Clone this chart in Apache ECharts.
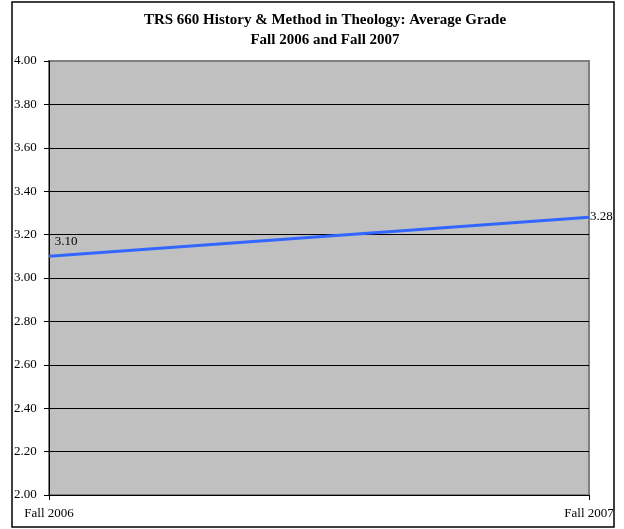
<!DOCTYPE html>
<html>
<head>
<meta charset="utf-8">
<script src="https://cdn.jsdelivr.net/npm/echarts@6/dist/echarts.min.js"></script>
<style>
  html, body { margin: 0; padding: 0; background: #fff; }
  #chart { width: 624px; height: 529px; }
</style>
</head>
<body>
<div id="chart"></div>
<script>
// Average grade per term
const terms = ['Fall 2006', 'Fall 2007'];
const averageGrade = [3.10, 3.28];
const titleLines = ['TRS 660 History & Method in Theology: Average Grade', 'Fall 2006 and Fall 2007'];

const serif = '"Liberation Serif", "Times New Roman", serif';
const chart = echarts.init(document.getElementById('chart'), null, { renderer: 'canvas' });

// black grid lines, except the top one which sits on the grey plot border
const splitColors = [];
for (let i = 0; i < 11; i++) splitColors.push(i === 10 ? '#808080' : '#000000');

chart.setOption({
  animation: false,
  backgroundColor: '#ffffff',
  title: {
    text: titleLines.join('\n'),
    left: 320,
    textAlign: 'center',
    top: 5,
    textStyle: { fontFamily: serif, fontWeight: 'bold', fontSize: 15, lineHeight: 20, color: '#000' }
  },
  graphic: [{
    type: 'rect',
    shape: { x: 12, y: 2, width: 602, height: 525 },
    style: { fill: 'none', stroke: '#000', lineWidth: 1.5 },
    silent: true,
    z: 100
  }],
  grid: {
    left: 49, right: 35, top: 61, bottom: 34,
    show: true,
    backgroundColor: '#C0C0C0',
    borderColor: '#808080',
    borderWidth: 2
  },
  xAxis: {
    type: 'category',
    data: terms,
    boundaryGap: false,
    axisLine: { lineStyle: { color: '#000', width: 1 } },
    axisTick: { show: true, length: 5, inside: false, lineStyle: { color: '#000' } },
    axisLabel: { margin: 12, fontFamily: serif, fontSize: 13, color: '#000' },
    splitLine: { show: false }
  },
  yAxis: {
    type: 'value',
    min: 2.0, max: 4.0, interval: 0.2,
    axisLine: { show: true, lineStyle: { color: '#000', width: 1 } },
    axisTick: { show: true, length: 5, lineStyle: { color: '#000' } },
    axisLabel: {
      align: 'left', margin: 35,
      fontFamily: serif, fontSize: 13, color: '#000',
      formatter: v => v.toFixed(2)
    },
    splitLine: { show: true, lineStyle: { color: splitColors, width: 1 } }
  },
  series: [{
    type: 'line',
    data: averageGrade,
    symbol: 'none',
    lineStyle: { color: '#3366FF', width: 3 },
    label: { show: false },
    z: 5,
    markPoint: {
      symbol: 'circle', symbolSize: 0,
      data: [
        { coord: [0, averageGrade[0]], value: averageGrade[0],
          label: { position: 'top', offset: [17, -3] } },
        { coord: [1, averageGrade[1]], value: averageGrade[1],
          label: { position: 'right', offset: [-4, -1] } }
      ],
      label: {
        show: true, fontFamily: serif, fontSize: 13, color: '#000',
        formatter: p => Number(p.value).toFixed(2)
      }
    }
  }]
});
</script>
</body>
</html>
